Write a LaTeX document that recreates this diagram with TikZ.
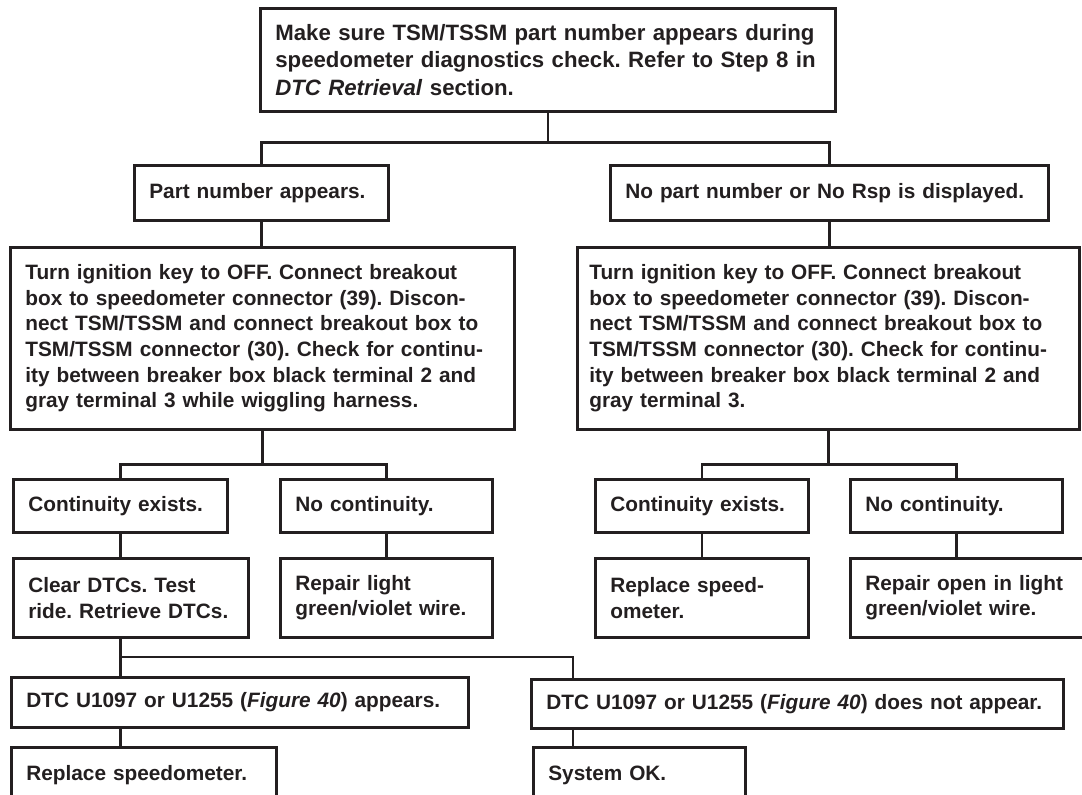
\documentclass[tikz,border=0pt]{standalone}
\usepackage{fontspec}
\setmainfont{Liberation Sans}
\usepackage{tikz}
\usepackage{xcolor}
\definecolor{ink}{HTML}{231F20}
\newcommand{\bodyfont}{\fontsize{20.8}{25.6}\selectfont\bfseries\frenchspacing}
\newcommand{\headfont}{\fontsize{22.2}{27.4}\selectfont\bfseries\frenchspacing}

\begin{document}
\begin{tikzpicture}[x=1pt,y=-1pt]
\tikzstyle{stepbox}=[draw=ink, line width=2.7pt, anchor=north west, inner xsep=15pt, inner ysep=0pt, align=left, text=ink, font=\bodyfont]
\tikzstyle{link}=[draw=ink, line width=2.7pt]
\useasboundingbox (0,0) rectangle (1082,795);
\clip (0,0) rectangle (1082,795);
% first check
\node[stepbox, font=\headfont, text width=545pt, minimum height=103pt] (check) at (259,7) {Make sure TSM/TSSM part number appears during\\speedometer diagnostics check. Refer to Step 8 in\\\textit{DTC Retrieval} section.};
\node[stepbox, text width=224pt, minimum height=55pt] (found) at (133,164) {Part number appears.};
\node[stepbox, text width=408pt, minimum height=55pt] (nofound) at (609,164) {No part number or No Rsp is displayed.};
% breakout box tests
\node[stepbox, text width=474pt, minimum height=182pt] (testl) at (9,246) {Turn ignition key to OFF. Connect breakout\\box to speedometer connector (39). Discon-\\nect TSM/TSSM and connect breakout box to\\TSM/TSSM connector (30). Check for continu-\\ity between breaker box black terminal 2 and\\gray terminal 3 while wiggling harness.};
\node[stepbox, inner xsep=12pt, text width=478pt, minimum height=182pt] (testr) at (576,246) {Turn ignition key to OFF. Connect breakout\\box to speedometer connector (39). Discon-\\nect TSM/TSSM and connect breakout box to\\TSM/TSSM connector (30). Check for continu-\\ity between breaker box black terminal 2 and\\gray terminal 3.};
% results
\node[stepbox, text width=184pt, minimum height=53pt] (contl) at (12,478) {Continuity exists.};
\node[stepbox, text width=182pt, minimum height=53pt] (opnl) at (279,478) {No continuity.};
\node[stepbox, text width=183pt, minimum height=53pt] (contr) at (594,478) {Continuity exists.};
\node[stepbox, text width=182pt, minimum height=53pt] (opnr) at (849,478) {No continuity.};
% repairs
\node[stepbox, text width=205pt, minimum height=79pt] (clear) at (12,557) {Clear DTCs. Test\\ride. Retrieve DTCs.};
\node[stepbox, text width=182pt, minimum height=79pt] (fixl) at (279,557) {Repair light\\green/violet wire.};
\node[stepbox, text width=183pt, minimum height=79pt] (swap) at (594,557) {Replace speed-\\ometer.};
\node[stepbox, text width=206pt, minimum height=79pt] (fixr) at (849,557) {Repair open in light\\green/violet wire.};
% after test ride
\node[stepbox, text width=427pt, minimum height=50pt] (code) at (10,676) {DTC U1097 or U1255 (\textit{Figure 40}) appears.};
\node[stepbox, text width=502pt, minimum height=49pt] (nocode) at (530,678) {DTC U1097 or U1255 (\textit{Figure 40}) does not appear.};
\node[stepbox, text width=235pt, minimum height=56pt] (swapb) at (10,746) {Replace speedometer.};
\node[stepbox, text width=182pt, minimum height=56pt] (ok) at (532,746) {System OK.};
% connectors
\draw[link] (check.south) -- ++(0,30) coordinate (j1);
\draw[link] (found.north) |- (j1) -| (nofound.north);
\draw[link] (found.south) -- (found.south |- testl.north);
\draw[link] (nofound.south) -- (nofound.south |- testr.north);
\draw[link] (testl.south) -- ++(0,34) coordinate (j2);
\draw[link] (contl.north) |- (j2) -| (opnl.north);
\draw[link] (testr.south) -- ++(0,34) coordinate (j3);
\draw[link] (contr.north) |- (j3) -| (opnr.north);
\draw[link] (contl.south) -- (contl.south |- clear.north);
\draw[link] (opnl.south) -- (opnl.south |- fixl.north);
\draw[link] (contr.south) -- (contr.south |- swap.north);
\draw[link] (opnr.south) -- (opnr.south |- fixr.north);
\coordinate (j4) at (573,657);
\draw[link] (clear.south -| contl.south) -- (contl.south |- code.north);
\draw[link] (contl.south |- j4) -- (j4) -- (j4 |- nocode.north);
\draw[link] (code.south -| contl.south) -- (contl.south |- swapb.north);
\draw[link] (j4 |- nocode.south) -- (j4 |- ok.north);
\end{tikzpicture}
\end{document}
